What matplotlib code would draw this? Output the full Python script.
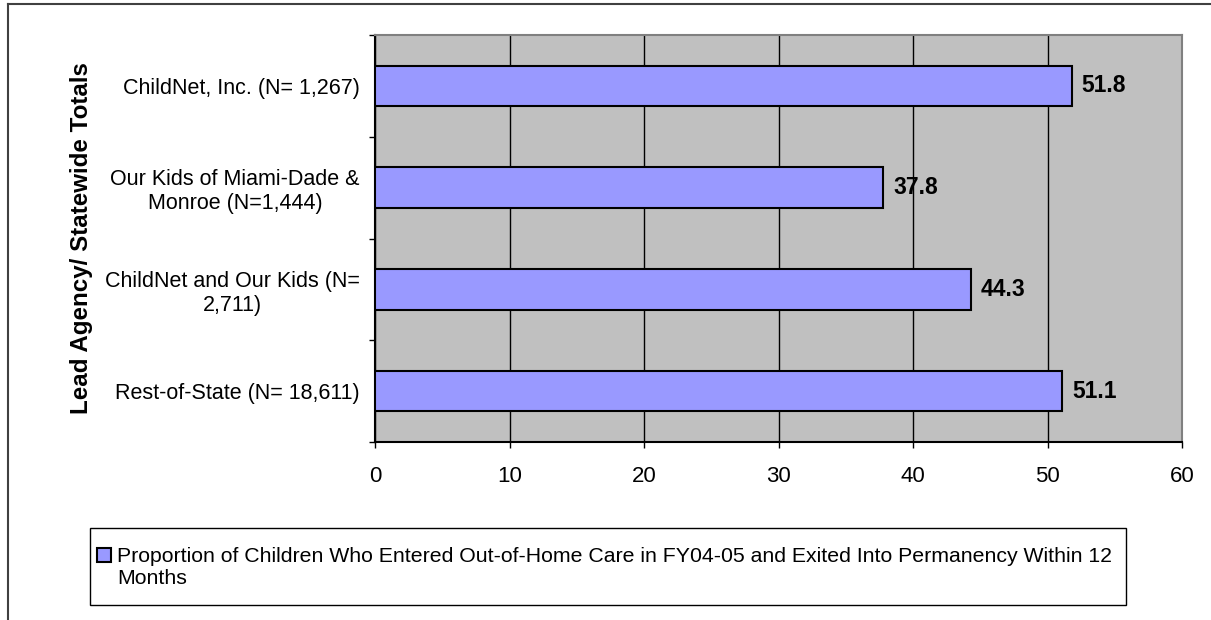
import numpy as np
import matplotlib
matplotlib.use('Agg')
import matplotlib.pyplot as plt
from matplotlib.lines import Line2D
from matplotlib.patches import Rectangle
from matplotlib.legend_handler import HandlerPatch

plt.rcParams['font.family'] = ['Liberation Sans', 'DejaVu Sans']

# lead agencies, top to bottom
agencies = ['ChildNet, Inc. (N= 1,267)',
            'Our Kids of Miami-Dade &\nMonroe (N=1,444)',
            'ChildNet and Our Kids (N=\n2,711)',
            'Rest-of-State (N= 18,611)']
pct_exited = [51.8, 37.8, 44.3, 51.1]
series_name = ('Proportion of Children Who Entered Out-of-Home Care in FY04-05 and Exited Into Permanency Within 12\n'
               'Months')
x_ticks = [0, 10, 20, 30, 40, 50, 60]

W, H = 1211, 620
fig = plt.figure(figsize=(W / 100, H / 100), dpi=100)
ax = fig.add_axes([375 / W, 1 - 442 / H, (1182 - 375) / W, (442 - 35) / H])
ax.set_facecolor('#C0C0C0')

ypos = np.arange(len(agencies))
bars = ax.barh(ypos, pct_exited, height=0.4, color='#9999FF', edgecolor='black',
               linewidth=1.5, zorder=3, label=series_name)
for y, v in zip(ypos, pct_exited):
    ax.annotate(f'{v:.1f}', xy=(v, y), xytext=(7, 0), textcoords='offset points',
                va='center', ha='left', fontsize=16.5, fontweight='bold')

ax.set_xlim(0, 60)
ax.set_ylim(len(agencies) - 0.5, -0.5)
ax.set_xticks(x_ticks)
ax.xaxis.grid(True, color='black', linewidth=1, zorder=1)
ax.set_axisbelow(True)
ax.tick_params(axis='x', length=4, width=1, pad=13, labelsize=16)

ax.set_yticks(ypos)
ax.set_yticklabels(agencies, multialignment='center')
ax.set_yticks(np.arange(-0.5, len(agencies)), minor=True)
ax.tick_params(axis='y', which='major', length=0, pad=11, labelsize=15.5)
ax.tick_params(axis='y', which='minor', length=4.5, width=1)

for side in ['left', 'bottom']:
    ax.spines[side].set_color('black')
    ax.spines[side].set_linewidth(1.5)
for side in ['top', 'right']:
    ax.spines[side].set_color('#808080')
    ax.spines[side].set_linewidth(1.5)

ax.set_ylabel('Lead Agency/ Statewide Totals', fontsize=17.4, fontweight='bold')
ax.yaxis.set_label_coords(-0.349, 0.5)


# legend key sits beside the first line of the wrapped label
def first_line_key(legend, orig_handle, xdescent, ydescent, width, height, fontsize):
    return Rectangle((-xdescent, -ydescent + 8.6), width, height)


# legend box
fig.patches.append(Rectangle((90 / W, 1 - 605 / H), (1126 - 90) / W, 77 / H,
                             transform=fig.transFigure, facecolor='white',
                             edgecolor='black', linewidth=1))
key = bars.patches[0]
fig.legend(handles=[key], labels=[series_name], loc='center left',
           bbox_to_anchor=(97 / W, 1 - 567 / H), frameon=False, fontsize=15.3,
           borderpad=0, borderaxespad=0, handlelength=0.65, handleheight=0.65,
           handletextpad=0.3,
           handler_map={type(key): HandlerPatch(patch_func=first_line_key)})

# outer chart border
fig.lines.append(Line2D([8 / W, 1], [1 - 4 / H, 1 - 4 / H], transform=fig.transFigure,
                        color='#404040', linewidth=1.5))
fig.lines.append(Line2D([8 / W, 8 / W], [0, 1 - 4 / H], transform=fig.transFigure,
                        color='#404040', linewidth=1.5))

fig.savefig('out.png', dpi=100)
